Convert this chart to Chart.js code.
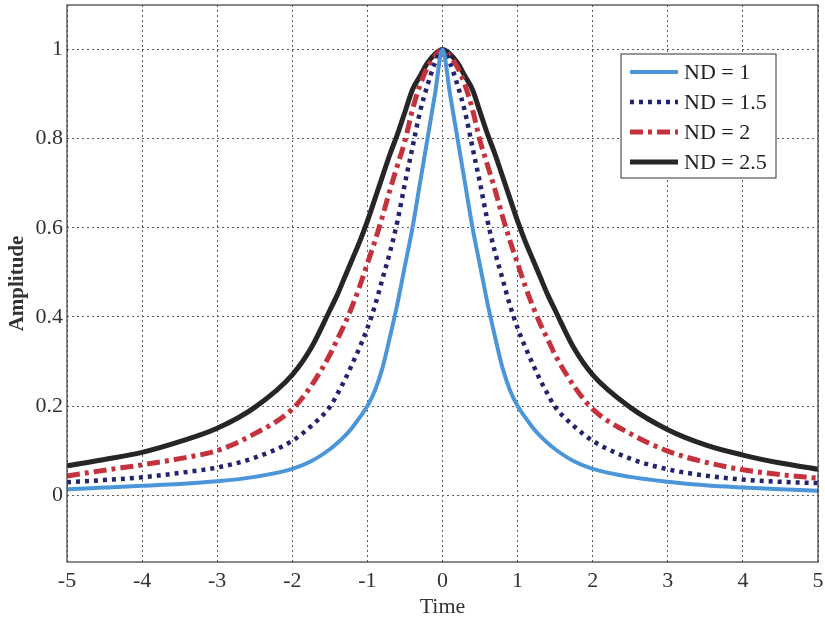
<!DOCTYPE html>
<html>
<head>
<meta charset="utf-8">
<title>Amplitude vs Time</title>
<script src="https://cdn.jsdelivr.net/npm/chart.js@4"></script>
<style>
  body { margin: 0; background: #fff; }
  canvas { display: block; }
</style>
</head>
<body>
<canvas id="chart" width="825" height="621"></canvas>
<script>
// values
var times = [-5, -4.5, -4, -3.5, -3, -2.5, -2, -1.75,
             -1.5, -1.4, -1.3, -1.2, -1.1, -1, -0.9, -0.8, -0.7, -0.6, -0.5, -0.4, -0.3, -0.2, -0.1,
             0,
             0.1, 0.2, 0.3, 0.4, 0.5, 0.6, 0.7, 0.8, 0.9, 1, 1.1, 1.2, 1.3, 1.4, 1.5,
             1.75, 2, 2.5, 3, 3.5, 4, 4.5, 5];

var nd1  = [0.013, 0.017, 0.021, 0.025, 0.031, 0.041, 0.059, 0.076,
            0.103, 0.117, 0.133, 0.152, 0.175, 0.20, 0.235, 0.285, 0.355, 0.43, 0.515, 0.60, 0.70, 0.80, 0.90,
            1,
            0.90, 0.80, 0.70, 0.60, 0.515, 0.43, 0.355, 0.285, 0.235, 0.20, 0.175, 0.152, 0.133, 0.117, 0.103,
            0.076, 0.059, 0.041, 0.030, 0.022, 0.017, 0.013, 0.010];
var nd15 = [0.029, 0.034, 0.040, 0.050, 0.062, 0.084, 0.122, 0.155,
            0.198, 0.227, 0.259, 0.295, 0.333, 0.375, 0.425, 0.485, 0.545, 0.615, 0.70, 0.78, 0.86, 0.92, 0.97,
            1,
            0.97, 0.92, 0.86, 0.78, 0.70, 0.615, 0.545, 0.485, 0.425, 0.375, 0.333, 0.295, 0.259, 0.227, 0.198,
            0.155, 0.122, 0.082, 0.058, 0.044, 0.035, 0.030, 0.027];
var nd2  = [0.043, 0.056, 0.068, 0.082, 0.100, 0.138, 0.193, 0.245,
            0.315, 0.350, 0.385, 0.425, 0.470, 0.520, 0.57, 0.625, 0.685, 0.74, 0.795, 0.865, 0.92, 0.96, 0.985,
            1,
            0.985, 0.96, 0.92, 0.865, 0.795, 0.74, 0.685, 0.625, 0.57, 0.520, 0.470, 0.425, 0.385, 0.350, 0.315,
            0.245, 0.193, 0.138, 0.099, 0.074, 0.057, 0.046, 0.038];
var nd25 = [0.066, 0.080, 0.096, 0.120, 0.150, 0.197, 0.270, 0.330,
            0.415, 0.45, 0.49, 0.53, 0.57, 0.615, 0.665, 0.715, 0.765, 0.81, 0.86, 0.91, 0.94, 0.97, 0.99,
            1,
            0.99, 0.97, 0.94, 0.91, 0.86, 0.81, 0.765, 0.715, 0.665, 0.615, 0.57, 0.53, 0.49, 0.45, 0.415,
            0.330, 0.270, 0.197, 0.147, 0.113, 0.090, 0.072, 0.058];

var seriesNames = ['ND = 1', 'ND = 1.5', 'ND = 2', 'ND = 2.5'];
var xTicks = [-5, -4, -3, -2, -1, 0, 1, 2, 3, 4, 5];
var yTicks = [0, 0.2, 0.4, 0.6, 0.8, 1];

function pts(vals) {
  return times.map(function (t, i) { return { x: t, y: vals[i] }; });
}

var serif = '"Liberation Serif", "DejaVu Serif", serif';

// legend drawn inside the plot, like the matlab box
var boxLegend = {
  id: 'boxLegend',
  afterDatasetsDraw: function (chart) {
    var ctx = chart.ctx;
    var area = chart.chartArea;
    // frame around plot
    ctx.save();
    ctx.strokeStyle = '#3a3a3a';
    ctx.lineWidth = 1.2;
    ctx.strokeRect(area.left, area.top, area.right - area.left, area.bottom - area.top);

    var bx = 621, by = 54, bw = 155, bh = 124;
    ctx.fillStyle = '#fff';
    ctx.fillRect(bx, by, bw, bh);
    ctx.strokeStyle = '#333';
    ctx.lineWidth = 1;
    ctx.strokeRect(bx, by, bw, bh);
    ctx.font = '22px ' + serif;
    ctx.textBaseline = 'middle';
    chart.data.datasets.forEach(function (ds, i) {
      var y = by + 18 + i * 30;
      ctx.beginPath();
      ctx.strokeStyle = ds.borderColor;
      ctx.lineWidth = ds.borderWidth;
      ctx.setLineDash(ds.borderDash || []);
      ctx.moveTo(630, y);
      ctx.lineTo(678, y);
      ctx.stroke();
      ctx.setLineDash([]);
      ctx.fillStyle = '#222';
      ctx.fillText(ds.label, 684, y + 1);
    });
    ctx.restore();
  }
};

new Chart(document.getElementById('chart'), {
  type: 'line',
  data: {
    datasets: [
      { label: seriesNames[0], data: pts(nd1),  borderColor: '#4b96d8', borderWidth: 4 },
      { label: seriesNames[1], data: pts(nd15), borderColor: '#24236e', borderWidth: 4.5, borderDash: [4, 5] },
      { label: seriesNames[2], data: pts(nd2),  borderColor: '#c4333d', borderWidth: 5, borderDash: [13, 5, 4, 5] },
      { label: seriesNames[3], data: pts(nd25), borderColor: '#262626', borderWidth: 5 }
    ]
  },
  options: {
    responsive: false,
    animation: false,
    layout: { padding: { top: 5, right: 7, left: 0, bottom: 0 } },
    elements: {
      point: { radius: 0 },
      line: { cubicInterpolationMode: 'monotone', fill: false, borderJoinStyle: 'round' }
    },
    plugins: {
      legend: { display: false },
      tooltip: { enabled: false }
    },
    scales: {
      x: {
        type: 'linear',
        min: -5,
        max: 5,
        afterBuildTicks: function (s) { s.ticks = xTicks.map(function (v) { return { value: v }; }); },
        afterFit: function (s) { s.height = 59; s.paddingLeft = 0; s.paddingRight = 0; },
        ticks: {
          font: { family: serif, size: 22 },
          color: '#333',
          padding: 6,
          maxRotation: 0,
          callback: function (v) { return String(v); }
        },
        grid: { color: '#5a5a5a', lineWidth: 1, drawTicks: false },
        border: { display: false, dash: [2, 3] },
        title: {
          display: true,
          text: 'Time',
          font: { family: serif, size: 22 },
          color: '#333',
          padding: { top: 0, bottom: 1 }
        }
      },
      y: {
        min: -0.15,
        max: 1.1,
        afterBuildTicks: function (s) { s.ticks = yTicks.map(function (v) { return { value: v }; }); },
        afterFit: function (s) { s.width = 67; s.paddingTop = 0; s.paddingBottom = 0; },
        ticks: {
          font: { family: serif, size: 22 },
          color: '#333',
          padding: 4,
          callback: function (v) { return String(v); }
        },
        grid: { color: '#5a5a5a', lineWidth: 1, drawTicks: false },
        border: { display: false, dash: [2, 3] },
        title: {
          display: true,
          text: 'Amplitude',
          font: { family: serif, size: 21, weight: 'bold' },
          color: '#333',
          padding: { top: 5, bottom: 0 }
        }
      }
    }
  },
  plugins: [boxLegend]
});
</script>
</body>
</html>
